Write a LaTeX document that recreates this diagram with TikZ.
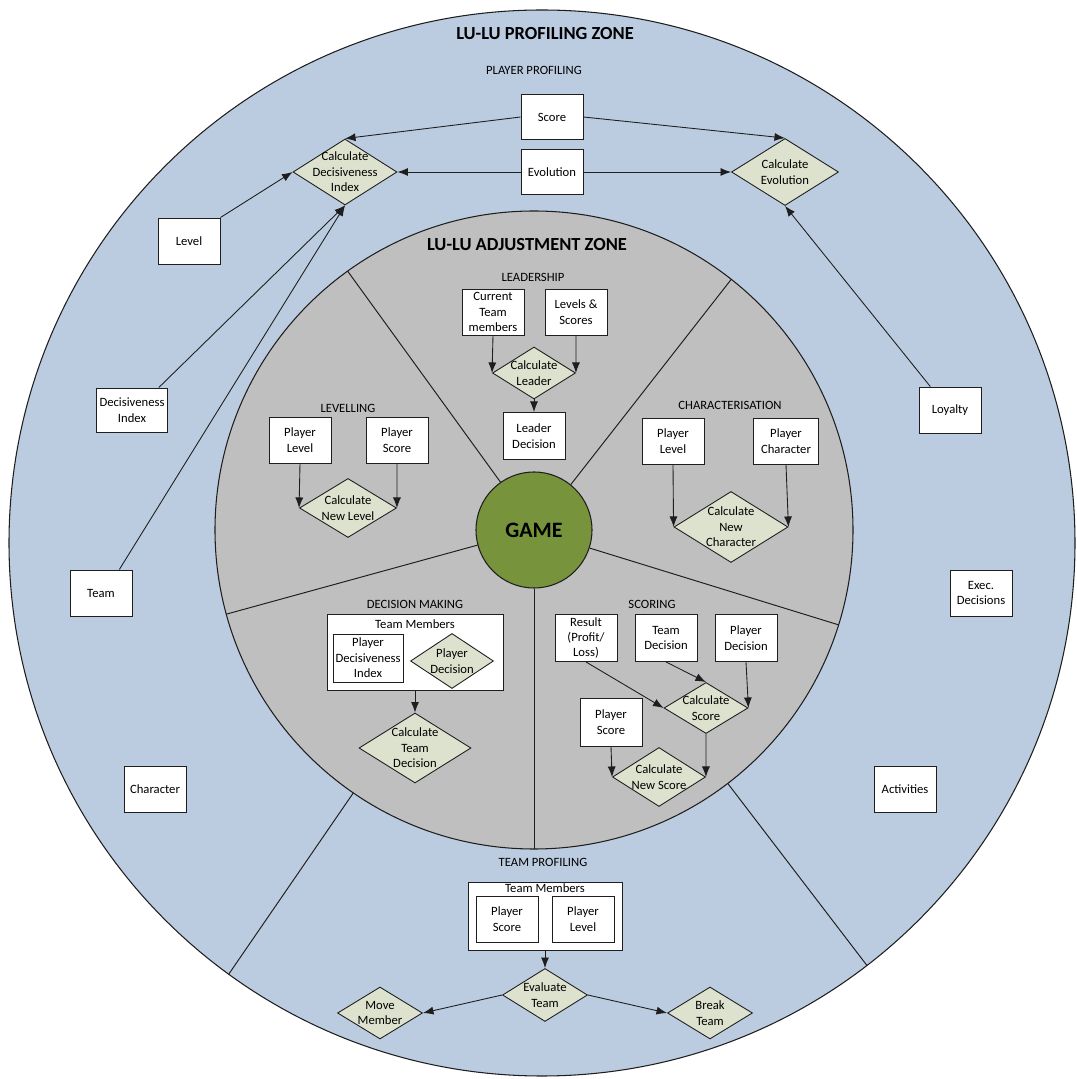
\documentclass[tikz,border=0pt]{standalone}
\usepackage{fontspec}
\setmainfont{Carlito}
\usetikzlibrary{shapes.geometric,arrows.meta}
\definecolor{profblue}{RGB}{188,204,224}
\definecolor{adjgray}{RGB}{191,191,191}
\definecolor{gamegreen}{RGB}{119,147,60}
\definecolor{decfill}{RGB}{221,226,206}
\definecolor{edge}{RGB}{30,30,30}
\tikzset{
  box/.style={draw=edge, line width=0.55pt, fill=white, minimum width=1.24cm, minimum height=0.92cm, align=center, inner sep=1pt},
  decision/.style={diamond, draw=edge, line width=0.5pt, fill=decfill, inner sep=0pt},
  zonetitle/.style={font=\fontsize{10.5}{12}\selectfont\bfseries},
  flow/.style={draw=edge, line width=0.5pt, -{Latex[length=6pt,width=4.6pt]}}
}
\begin{document}
\begin{tikzpicture}[font=\fontsize{7.2}{8.8}\selectfont]
\useasboundingbox (0,0) rectangle (21.52,21.58);
\coordinate (prof) at (10.84,10.72);
\coordinate (adj) at (10.68,10.98);
% profiling zone
\path[draw=edge,fill=profblue,line width=0.6pt] (prof) circle (10.66);
\path[draw=edge,line width=0.55pt] ([shift={(235.5:6.3)}]adj) -- ([shift={(235.5:10.78)}]adj);
\path[draw=edge,line width=0.55pt] ([shift={(307.4:6.3)}]adj) -- ([shift={(307.4:10.96)}]adj);
% adjustment zone
\path[draw=edge,fill=adjgray,line width=0.6pt] (adj) circle (6.38);
\node[circle, draw=edge, line width=0.6pt, fill=gamegreen, minimum size=2.32cm, inner sep=0pt, font=\fontsize{12.5}{14}\selectfont\bfseries] (game) at (adj) {GAME};
\path[draw=edge,line width=0.55pt] (game.51.8) -- ([shift={(51.8:6.38)}]adj);
\path[draw=edge,line width=0.55pt] (game.125.75) -- ([shift={(125.75:6.38)}]adj);
\path[draw=edge,line width=0.55pt] (game.195.3) -- ([shift={(195.3:6.38)}]adj);
\path[draw=edge,line width=0.55pt] (game.270) -- ([shift={(270:6.38)}]adj);
\path[draw=edge,line width=0.55pt] (game.342.7) -- ([shift={(342.7:6.38)}]adj);

% player profiling
\node[zonetitle] (proftitle) at (10.9,20.9) {LU-LU PROFILING ZONE};
\node (pptitle) at (10.68,20.18) {PLAYER PROFILING};
\node[box, minimum height=0.9cm] (score) at (11.04,19.24) {Score};
\node[box, minimum height=0.9cm] (evol) at (11.04,18.14) {Evolution};
\node[decision, minimum width=2.08cm, minimum height=1.32cm, label={[align=center]center:Calculate\\Decisiveness\\Index}] (cdi) at (6.9,18.14) {};
\node[decision, minimum width=2.14cm, minimum height=1.34cm, label={[align=center]center:Calculate\\Evolution}] (ce) at (15.7,18.14) {};
\node[box] (level) at (3.78,16.76) {Level};
\node[box, minimum width=1.42cm, minimum height=0.88cm] (dindex) at (2.64,13.38) {Decisiveness\\Index};
\node[box] (team) at (2.02,9.72) {Team};
\node[box] (character) at (3.1,5.8) {Character};
\node[box] (loyalty) at (19.0,13.38) {Loyalty};
\node[box] (exec) at (19.62,9.72) {Exec.\\Decisions};
\node[box] (activities) at (18.1,5.8) {Activities};
\path[draw,flow] (score.west) -- (cdi.north);
\path[draw,flow] (score.east) -- (ce.north);
\path[draw,flow] (evol.west) -- (cdi.east);
\path[draw,flow] (evol.east) -- (ce.west);
\path[draw,flow] (level.north east) -- (cdi.west);
\path[draw,flow] (dindex.40) -- (cdi.south);
\path[draw,flow] (team.52) -- (cdi.south);
\path[draw,flow] (loyalty.130) -- (ce.south);

% leadership
\node[zonetitle] (adjtitle) at (10.54,16.68) {LU-LU ADJUSTMENT ZONE};
\node (ldtitle) at (10.66,16.04) {LEADERSHIP};
\node[box] (curteam) at (9.86,15.34) {Current\\Team\\members};
\node[box] (levsc) at (11.52,15.34) {Levels \&\\Scores};
\node[decision, minimum width=1.66cm, minimum height=1.04cm, label={[align=center]center:Calculate\\Leader}] (cleader) at (10.68,14.12) {};
\node[box, minimum height=0.94cm] (leaderdec) at (10.68,12.86) {Leader\\Decision};
\path[draw,flow] (curteam.south) -- (cleader.west);
\path[draw,flow] (levsc.south) -- (cleader.east);
\path[draw,flow] (cleader.south) -- (leaderdec.north);

% levelling
\node (lvtitle) at (6.96,13.42) {LEVELLING};
\node[box] (lvlevel) at (6.0,12.78) {Player\\Level};
\node[box] (lvscore) at (7.94,12.78) {Player\\Score};
\node[decision, minimum width=1.94cm, minimum height=1.18cm, label={[align=center]center:Calculate\\New Level}] (cnl) at (6.96,11.42) {};
\path[draw,flow] (lvlevel.south) -- (cnl.west);
\path[draw,flow] (lvscore.south) -- (cnl.east);

% characterisation
\node (chtitle) at (14.6,13.48) {CHARACTERISATION};
\node[box] (chlevel) at (13.46,12.76) {Player\\Level};
\node[box, minimum width=1.3cm] (chchar) at (15.72,12.76) {Player\\Character};
\node[decision, minimum width=2.28cm, minimum height=1.42cm, label={[align=center]center:Calculate\\New\\Character}] (cnc) at (14.62,11.04) {};
\path[draw,flow] (chlevel.south) -- (cnc.west);
\path[draw,flow] (chchar.south) -- (cnc.east);

% decision making
\node (dmtitle) at (8.3,9.5) {DECISION MAKING};
\node[box, minimum width=3.52cm, minimum height=1.52cm] (dmbox) at (8.3,8.54) {};
\node (dmmembers) at (8.3,9.1) {Team Members};
\node[box, minimum width=1.4cm, minimum height=0.96cm] (dmindex) at (7.36,8.42) {Player\\Decisiveness\\Index};
\node[decision, minimum width=1.66cm, minimum height=1.1cm, label={[align=center]center:Player\\Decision}] (dmdec) at (9.04,8.36) {};
\node[decision, minimum width=2.24cm, minimum height=1.4cm, label={[align=center]center:Calculate\\Team\\Decision}] (ctd) at (8.3,6.62) {};
\path[draw,flow] (dmbox.south) -- (ctd.north);

% scoring
\node (sctitle) at (13.04,9.5) {SCORING};
\node[box, minimum height=0.94cm] (result) at (11.72,8.82) {Result\\(Profit/\\Loss)};
\node[box, minimum height=0.94cm] (scteam) at (13.32,8.82) {Team\\Decision};
\node[box, minimum height=0.94cm] (scplayer) at (14.92,8.82) {Player\\Decision};
\node[decision, minimum width=1.68cm, minimum height=1.02cm, label={[align=center]center:Calculate\\Score}] (cscore) at (14.12,7.42) {};
\node[box, minimum height=0.96cm] (scscore) at (12.22,7.14) {Player\\Score};
\node[decision, minimum width=1.86cm, minimum height=1.18cm, label={[align=center]center:Calculate\\New Score}] (cns) at (13.18,6.04) {};
\path[draw,flow] (result.south) -- (cscore.west);
\path[draw,flow] (scteam.south) -- (cscore.north);
\path[draw,flow] (scplayer.south) -- (cscore.east);
\path[draw,flow] (cscore.south) -- (cns.east);
\path[draw,flow] (scscore.south) -- (cns.west);

% team profiling
\node (tptitle) at (10.86,4.34) {TEAM PROFILING};
\node[box, minimum width=3.08cm, minimum height=1.36cm] (tpbox) at (10.9,3.26) {};
\node (tpmembers) at (10.9,3.82) {Team Members};
\node[box] (tpscore) at (10.14,3.2) {Player\\Score};
\node[box] (tplevel) at (11.66,3.2) {Player\\Level};
\node[decision, minimum width=1.7cm, minimum height=1.06cm, label={[align=center]center:Evaluate\\Team}] (evalteam) at (10.9,1.68) {};
\node[decision, minimum width=1.7cm, minimum height=1.04cm, label={[align=center]center:Move\\Member}] (move) at (7.6,1.32) {};
\node[decision, minimum width=1.7cm, minimum height=1.04cm, label={[align=center]center:Break\\Team}] (break) at (14.2,1.32) {};
\path[draw,flow] (tpbox.south) -- (evalteam.north);
\path[draw,flow] (evalteam.west) -- (move.east);
\path[draw,flow] (evalteam.east) -- (break.west);
\end{tikzpicture}
\end{document}
